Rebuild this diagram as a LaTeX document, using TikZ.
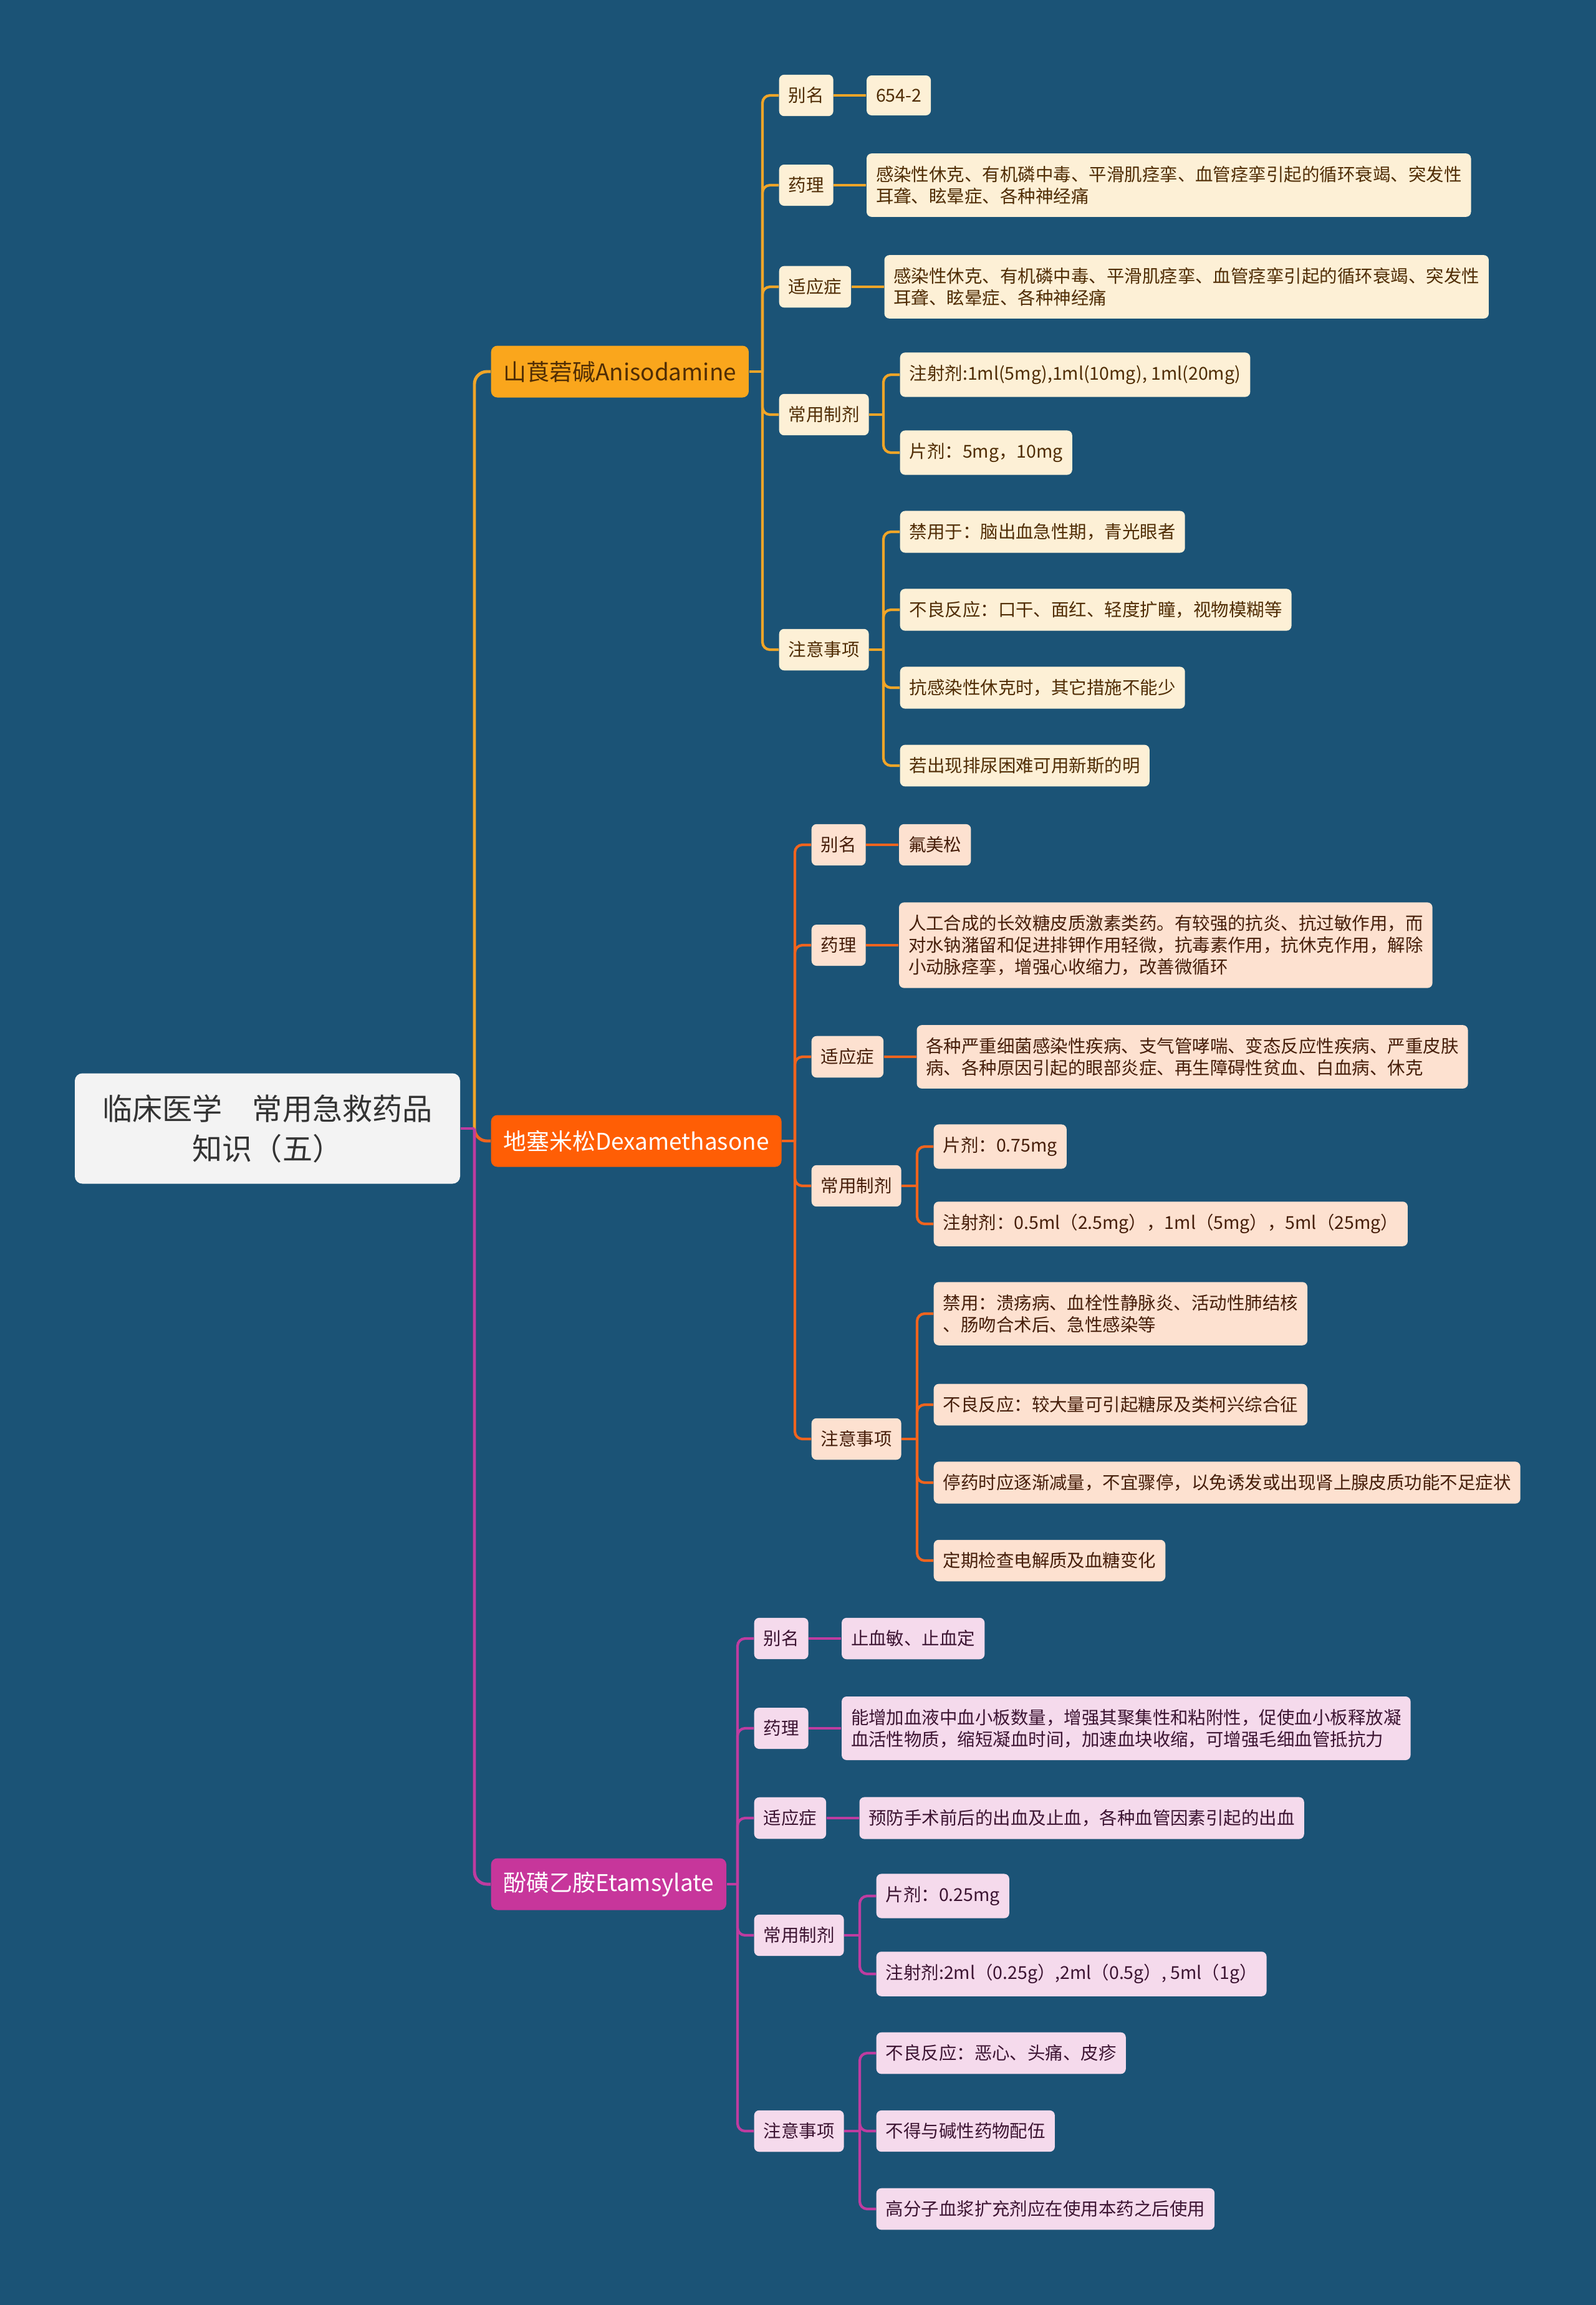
\documentclass[tikz,border=0pt]{standalone}
\usepackage{fontspec}
\setmainfont{Noto Sans CJK SC}
\usepackage{tikz}
\usetikzlibrary{arrows,positioning}

\definecolor{bgblue}{RGB}{27,83,118}
\definecolor{rootfill}{RGB}{243,243,243}
\definecolor{roottext}{RGB}{51,51,51}
\definecolor{aniFill}{RGB}{250,166,28}
\definecolor{aniLine}{RGB}{240,165,40}
\definecolor{aniLight}{RGB}{253,240,214}
\definecolor{aniInk}{RGB}{80,45,5}
\definecolor{dexFill}{RGB}{255,94,5}
\definecolor{dexLine}{RGB}{240,100,30}
\definecolor{dexLight}{RGB}{253,225,208}
\definecolor{dexInk}{RGB}{70,30,10}
\definecolor{etaFill}{RGB}{199,54,155}
\definecolor{etaLine}{RGB}{190,60,160}
\definecolor{etaLight}{RGB}{245,218,236}
\definecolor{etaInk}{RGB}{60,20,50}

\pgfdeclarelayer{background}
\pgfsetlayers{background,main}

\begin{document}
\begin{tikzpicture}[x=1cm,y=1cm,line cap=round]
  \tikzstyle{rootbox}=[fill=rootfill,text=roottext,rounded corners=0.12cm,minimum width=6.18cm,
                       minimum height=1.77cm,align=center,font=\fontsize{13.7}{18.2}\selectfont]
  \tikzstyle{topic}=[rounded corners=0.1cm,anchor=west,minimum height=0.83cm,inner xsep=0.2cm,
                     font=\fontsize{10.5}{12.6}\selectfont]
  \tikzstyle{topicA}=[topic,fill=aniFill,text=aniInk]
  \tikzstyle{topicB}=[topic,fill=dexFill,text=white]
  \tikzstyle{topicC}=[topic,fill=etaFill,text=white]
  \tikzstyle{leaf}=[rounded corners=0.08cm,anchor=west,minimum height=0.64cm,inner xsep=0.15cm,
                    inner ysep=0.2cm,align=left,font=\fontsize{8.1}{9.96}\selectfont]
  \tikzstyle{leafA}=[leaf,fill=aniLight,text=aniInk]
  \tikzstyle{leafB}=[leaf,fill=dexLight,text=dexInk]
  \tikzstyle{leafC}=[leaf,fill=etaLight,text=etaInk]
  \tikzstyle{lineA}=[aniLine,line width=1.2pt,rounded corners=0.12cm]
  \tikzstyle{lineB}=[dexLine,line width=1.2pt,rounded corners=0.12cm]
  \tikzstyle{lineC}=[etaLine,line width=1.2pt,rounded corners=0.12cm]
  \tikzstyle{elbow}=[to path={(\tikztostart) |- (\tikztotarget.west)}]

  \useasboundingbox (0,0) rectangle (25.60,-36.97);

  % centre and branches
  \node[rootbox] (root) at (4.29,-18.10) {临床医学　常用急救药品\\知识（五）};
  \node[topicA]  (ani)  at (7.87,-5.96)  {山莨菪碱Anisodamine};
  \node[topicB]  (dex)  at (7.87,-18.30) {地塞米松Dexamethasone};
  \node[topicC]  (eta)  at (7.87,-30.22) {酚磺乙胺Etamsylate};

  % Anisodamine
  \node[leafA] (aniAlias) at (12.49,-1.53)  {别名};
  \node[leafA] (aniPharm) at (12.49,-2.97)  {药理};
  \node[leafA] (aniUse)   at (12.49,-4.60)  {适应症};
  \node[leafA] (aniForm)  at (12.49,-6.65)  {常用制剂};
  \node[leafA] (aniNote)  at (12.49,-10.42) {注意事项};
  \node[leafA] (aniAlias1) [right=0.52cm of aniAlias] {654-2};
  \node[leafA] (aniPharm1) [right=0.52cm of aniPharm]
       {感染性休克、有机磷中毒、平滑肌痉挛、血管痉挛引起的循环衰竭、突发性\\耳聋、眩晕症、各种神经痛};
  \node[leafA] (aniUse1)   [right=0.52cm of aniUse]
       {感染性休克、有机磷中毒、平滑肌痉挛、血管痉挛引起的循环衰竭、突发性\\耳聋、眩晕症、各种神经痛};
  \node[leafA] (aniForm1) at (14.43,-6.01)  {注射剂:1ml(5mg),1ml(10mg), 1ml(20mg)};
  \node[leafA] (aniForm2) at (14.43,-7.26)  {片剂：5mg，10mg};
  \node[leafA] (aniNote1) at (14.43,-8.53)  {禁用于：脑出血急性期，青光眼者};
  \node[leafA] (aniNote2) at (14.43,-9.78)  {不良反应：口干、面红、轻度扩瞳，视物模糊等};
  \node[leafA] (aniNote3) at (14.43,-11.03) {抗感染性休克时，其它措施不能少};
  \node[leafA] (aniNote4) at (14.43,-12.28) {若出现排尿困难可用新斯的明};

  % Dexamethasone
  \node[leafB] (dexAlias) at (13.01,-13.55) {别名};
  \node[leafB] (dexPharm) at (13.01,-15.16) {药理};
  \node[leafB] (dexUse)   at (13.01,-16.95) {适应症};
  \node[leafB] (dexForm)  at (13.01,-19.02) {常用制剂};
  \node[leafB] (dexNote)  at (13.01,-23.08) {注意事项};
  \node[leafB] (dexAlias1) [right=0.52cm of dexAlias] {氟美松};
  \node[leafB] (dexPharm1) [right=0.52cm of dexPharm]
       {人工合成的长效糖皮质激素类药。有较强的抗炎、抗过敏作用，而\\对水钠潴留和促进排钾作用轻微，抗毒素作用，抗休克作用，解除\\小动脉痉挛，增强心收缩力，改善微循环};
  \node[leafB] (dexUse1)   [right=0.52cm of dexUse]
       {各种严重细菌感染性疾病、支气管哮喘、变态反应性疾病、严重皮肤\\病、各种原因引起的眼部炎症、再生障碍性贫血、白血病、休克};
  \node[leafB] (dexForm1) at (14.97,-18.39) {片剂：0.75mg};
  \node[leafB] (dexForm2) at (14.97,-19.63) {注射剂：0.5ml（2.5mg），1ml（5mg），5ml（25mg）};
  \node[leafB] (dexNote1) at (14.97,-21.07) {禁用：溃疡病、血栓性静脉炎、活动性肺结核\\、肠吻合术后、急性感染等};
  \node[leafB] (dexNote2) at (14.97,-22.53) {不良反应：较大量可引起糖尿及类柯兴综合征};
  \node[leafB] (dexNote3) at (14.97,-23.78) {停药时应逐渐减量，不宜骤停，以免诱发或出现肾上腺皮质功能不足症状};
  \node[leafB] (dexNote4) at (14.97,-25.03) {定期检查电解质及血糖变化};

  % Etamsylate
  \node[leafC] (etaAlias) at (12.09,-26.28) {别名};
  \node[leafC] (etaPharm) at (12.09,-27.72) {药理};
  \node[leafC] (etaUse)   at (12.09,-29.16) {适应症};
  \node[leafC] (etaForm)  at (12.09,-31.04) {常用制剂};
  \node[leafC] (etaNote)  at (12.09,-34.18) {注意事项};
  \node[leafC] (etaAlias1) [right=0.52cm of etaAlias] {止血敏、止血定};
  \node[leafC] (etaPharm1) [right=0.52cm of etaPharm]
       {能增加血液中血小板数量，增强其聚集性和粘附性，促使血小板释放凝\\血活性物质，缩短凝血时间，加速血块收缩，可增强毛细血管抵抗力};
  \node[leafC] (etaUse1)   [right=0.52cm of etaUse] {预防手术前后的出血及止血，各种血管因素引起的出血};
  \node[leafC] (etaForm1) at (14.05,-30.41) {片剂：0.25mg};
  \node[leafC] (etaForm2) at (14.05,-31.66) {注射剂:2ml（0.25g）,2ml（0.5g）, 5ml（1g）};
  \node[leafC] (etaNote1) at (14.05,-32.93) {不良反应：恶心、头痛、皮疹};
  \node[leafC] (etaNote2) at (14.05,-34.18) {不得与碱性药物配伍};
  \node[leafC] (etaNote3) at (14.05,-35.43) {高分子血浆扩充剂应在使用本药之后使用};

  \coordinate (trunk)       at (7.61,-18.10);
  \coordinate (aniFork)     at (12.23,-5.96);
  \coordinate (aniFormFork) at (14.17,-6.65);
  \coordinate (aniNoteFork) at (14.17,-10.42);
  \coordinate (dexFork)     at (12.75,-18.30);
  \coordinate (dexFormFork) at (14.71,-19.02);
  \coordinate (dexNoteFork) at (14.71,-23.08);
  \coordinate (etaFork)     at (11.83,-30.22);
  \coordinate (etaFormFork) at (13.79,-31.04);
  \coordinate (etaNoteFork) at (13.79,-34.18);

  \begin{pgfonlayer}{background}
  \fill[bgblue] (0,0) rectangle (25.60,-36.97);

  \path[lineA,line width=1.4pt,rounded corners=0.2cm] (trunk) edge[elbow] (ani);
  \path[lineB,line width=1.4pt,rounded corners=0.2cm] (trunk) edge[elbow] (dex);
  \path[lineC,line width=1.4pt,rounded corners=0.2cm] (root) edge (trunk)
                                                      (trunk) edge[elbow] (eta);

  \path[lineA] (ani) edge (aniFork)
        (aniFork) edge[elbow] (aniAlias) edge[elbow] (aniPharm) edge[elbow] (aniUse)
                  edge[elbow] (aniForm) edge[elbow] (aniNote)
        (aniAlias) edge (aniAlias1)
        (aniPharm) edge (aniPharm1)
        (aniUse) edge (aniUse1)
        (aniForm) edge (aniFormFork)
        (aniFormFork) edge[elbow] (aniForm1) edge[elbow] (aniForm2)
        (aniNote) edge (aniNoteFork)
        (aniNoteFork) edge[elbow] (aniNote1) edge[elbow] (aniNote2)
                      edge[elbow] (aniNote3) edge[elbow] (aniNote4);

  \path[lineB] (dex) edge (dexFork)
        (dexFork) edge[elbow] (dexAlias) edge[elbow] (dexPharm) edge[elbow] (dexUse)
                  edge[elbow] (dexForm) edge[elbow] (dexNote)
        (dexAlias) edge (dexAlias1)
        (dexPharm) edge (dexPharm1)
        (dexUse) edge (dexUse1)
        (dexForm) edge (dexFormFork)
        (dexFormFork) edge[elbow] (dexForm1) edge[elbow] (dexForm2)
        (dexNote) edge (dexNoteFork)
        (dexNoteFork) edge[elbow] (dexNote1) edge[elbow] (dexNote2)
                      edge[elbow] (dexNote3) edge[elbow] (dexNote4);

  \path[lineC] (eta) edge (etaFork)
        (etaFork) edge[elbow] (etaAlias) edge[elbow] (etaPharm) edge[elbow] (etaUse)
                  edge[elbow] (etaForm) edge[elbow] (etaNote)
        (etaAlias) edge (etaAlias1)
        (etaPharm) edge (etaPharm1)
        (etaUse) edge (etaUse1)
        (etaForm) edge (etaFormFork)
        (etaFormFork) edge[elbow] (etaForm1) edge[elbow] (etaForm2)
        (etaNote) edge (etaNoteFork)
        (etaNoteFork) edge[elbow] (etaNote1) edge[elbow] (etaNote2) edge[elbow] (etaNote3);
  \end{pgfonlayer}
\end{tikzpicture}
\end{document}
